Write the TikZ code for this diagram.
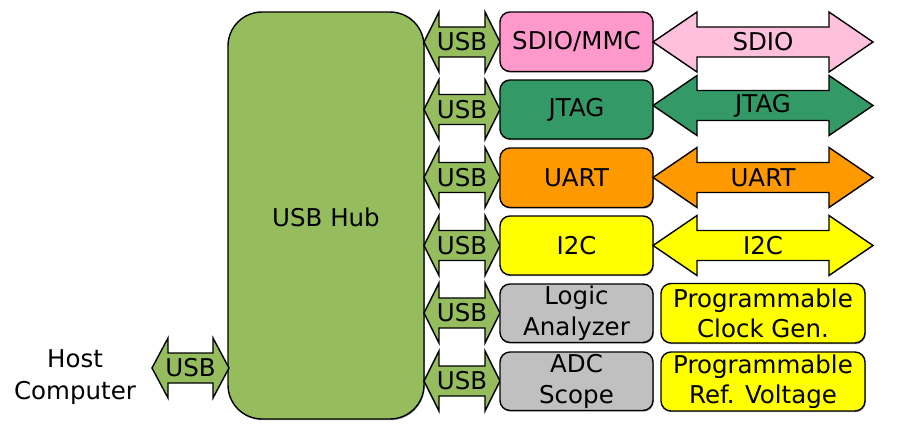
\documentclass[tikz,border=0pt]{standalone}
\usepackage{fontspec}
\setmainfont{DejaVu Sans}
\usetikzlibrary{shadows}
\definecolor{hubgreen}{HTML}{95BD5E}
\definecolor{sdiopink}{HTML}{FF99CC}
\definecolor{sdiolight}{HTML}{FFC0DD}
\definecolor{jtaggreen}{HTML}{339966}
\definecolor{uartorange}{HTML}{FF9900}
\definecolor{ictyellow}{HTML}{FFFF00}
\definecolor{boxgray}{HTML}{C0C0C0}
\tikzset{
  txt/.style={font=\fontsize{24.5}{30.5}\selectfont, align=center, inner sep=0pt},
  blk/.style={draw=black, line width=1.4pt, rounded corners=10pt, drop shadow={shadow xshift=0.8pt, shadow yshift=-1.2pt, fill=black!45, opacity=0.8}},
  arr/.style={draw=black, line width=1.4pt, line join=miter},
}
% \blockarrow{name}{x1}{x2}{yc}{headlen}{fill}{text}
\newcommand\blockarrow[7]{%
  \draw[arr, fill=#6] (#2,#4) -- (#2+#5,#4-30) -- (#2+#5,#4-15) -- (#3-#5,#4-15) -- (#3-#5,#4-30)
    -- (#3,#4) -- (#3-#5,#4+30) -- (#3-#5,#4+15) -- (#2+#5,#4+15) -- (#2+#5,#4+30) -- cycle;
  \node[txt] (#1) at ({(#2+#3)/2},#4) {#7};
}
\begin{document}
\begin{tikzpicture}[x=1pt,y=-1pt]
\useasboundingbox (0,0) rectangle (905,440);
% hub
\draw[blk, fill=hubgreen, rounded corners=34pt] (228,12) rectangle (424,419);
\node[txt] (hub) at (326,217) {USB Hub};
% host
\node[txt, font=\fontsize{24.5}{32}\selectfont] (host) at (75,377) {Host\\Computer};
\blockarrow{hostusb}{152}{229}{368}{16}{hubgreen}{USB}
% rows
\foreach \y [count=\i] in {42,109.5,177.5,245.5,313,381}{
  \blockarrow{usb\i}{424}{500}{\y}{15}{hubgreen}{USB}
}
\draw[blk, fill=sdiopink] (500,12) rectangle (653,71.5) node[txt, midway] (sdiobox) {SDIO/MMC};
\draw[blk, fill=jtaggreen] (500,80) rectangle (653,139) node[txt, midway] (jtagbox) {JTAG};
\draw[blk, fill=uartorange] (500,148) rectangle (653,207.5) node[txt, midway] (uartbox) {UART};
\draw[blk, fill=ictyellow] (500,216) rectangle (653,275) node[txt, midway] (icbox) {I2C};
\draw[blk, fill=boxgray] (500,284) rectangle (653,342.5) node[txt, midway] (logicbox) {Logic\\Analyzer};
\draw[blk, fill=boxgray] (500,352) rectangle (653,410.5) node[txt, midway] (adcbox) {ADC\\Scope};
\draw[blk, fill=ictyellow] (661,283.5) rectangle (865,343) node[txt, midway] (clkbox) {Programmable\\Clock Gen.};
\draw[blk, fill=ictyellow] (661,352) rectangle (865,411) node[txt, midway] (refbox) {Programmable\\Ref. Voltage};
% bus arrows
\blockarrow{sdioarr}{653}{873}{42}{44}{sdiolight}{SDIO}
\blockarrow{jtagarr}{653}{873}{105.5}{44}{jtaggreen}{JTAG}
\blockarrow{uartarr}{653}{873}{177.5}{44}{uartorange}{UART}
\blockarrow{icarr}{653}{873}{245.5}{44}{ictyellow}{I2C}
\end{tikzpicture}
\end{document}
